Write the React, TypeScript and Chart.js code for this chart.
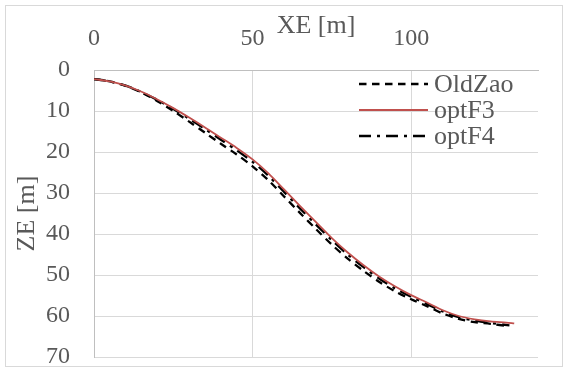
import React, { useEffect, useRef } from "react";
import { Chart, registerables } from "chart.js";

Chart.register(...registerables);

const FONT = '"Liberation Serif", "Times New Roman", serif';
const TEXT = "#595959";

const xOldZao = [0, 5, 10, 15, 20, 25, 30, 35, 40, 45, 50, 55, 60, 65, 70, 75, 80, 85, 90, 95, 100, 105, 110, 115, 120, 125, 130.8];
const zOldZao = [2.2, 2.8, 3.9, 5.5, 7.6, 10.0, 12.6, 15.3, 18.0, 20.6, 23.5, 26.9, 30.9, 34.9, 38.8, 42.6, 46.0, 49.0, 51.7, 54.0, 55.9, 57.6, 59.4, 60.7, 61.5, 61.9, 62.5];

const xOptF3 = [0, 5, 10, 15, 20, 25, 30, 35, 40, 45, 50, 55, 60, 65, 70, 75, 80, 85, 90, 95, 100, 105, 110, 115, 120, 125, 130, 132.5];
const zOptF3 = [2.2, 2.8, 3.8, 5.3, 7.2, 9.3, 11.6, 14.0, 16.5, 19.0, 21.8, 25.2, 29.2, 33.2, 37.1, 41.0, 44.5, 47.6, 50.4, 52.8, 54.9, 56.7, 58.6, 60.0, 60.8, 61.3, 61.6, 61.8];

const xOptF4 = [0, 5, 10, 15, 20, 25, 30, 35, 40, 45, 50, 55, 60, 65, 70, 75, 80, 85, 90, 95, 100, 105, 110, 115, 120, 125, 131];
const zOptF4 = [2.2, 2.8, 3.8, 5.4, 7.3, 9.5, 11.9, 14.4, 17.0, 19.6, 22.4, 25.8, 29.8, 33.8, 37.7, 41.5, 45.0, 48.1, 50.9, 53.3, 55.3, 57.1, 58.9, 60.3, 61.1, 61.7, 62.3];

const seriesNames = ["OldZao", "optF3", "optF4"];

const xTitle = "XE [m]";
const yTitle = "ZE [m]";

const pts = (xs: number[], zs: number[]) => xs.map((x, i) => ({ x, y: zs[i] }));

const legendPlugin = {
  id: "insideLegend",
  afterDraw(chart: any) {
    const ctx = chart.ctx;
    const ds = chart.data.datasets;
    ctx.save();
    ds.forEach((d: any, k: number) => {
      const y = 84 + k * 26;
      ctx.beginPath();
      ctx.setLineDash(d.borderDash || []);
      ctx.lineWidth = d.borderWidth;
      ctx.strokeStyle = d.borderColor;
      ctx.moveTo(359, y);
      ctx.lineTo(428, y);
      ctx.stroke();
      ctx.setLineDash([]);
      ctx.fillStyle = TEXT;
      ctx.font = `26px ${FONT}`;
      ctx.textBaseline = "middle";
      ctx.textAlign = "left";
      ctx.fillText(d.label, 434, y + 1);
    });
    ctx.restore();
  },
};

const framePlugin = {
  id: "frame",
  beforeDraw(chart: any) {
    const ctx = chart.ctx;
    ctx.save();
    ctx.fillStyle = "#ffffff";
    ctx.fillRect(0, 0, chart.width, chart.height);
    ctx.strokeStyle = "#d9d9d9";
    ctx.lineWidth = 1;
    ctx.strokeRect(5.5, 5.5, chart.width - 11, chart.height - 11);
    ctx.restore();
  },
};

export default function App() {
  const ref = useRef<HTMLCanvasElement | null>(null);
  useEffect(() => {
    document.body.style.margin = "0";
    const chart = new Chart(ref.current as HTMLCanvasElement, {
      type: "scatter",
      data: {
        datasets: [
          {
            label: seriesNames[0],
            data: pts(xOldZao, zOldZao),
            showLine: true,
            borderColor: "#000000",
            borderWidth: 2.3,
            borderDash: [7.5, 5.5],
            pointRadius: 0,
            tension: 0.3,
            order: 2,
          },
          {
            label: seriesNames[1],
            data: pts(xOptF3, zOptF3),
            showLine: true,
            borderColor: "#c0504d",
            borderWidth: 1.8,
            pointRadius: 0,
            tension: 0.3,
            order: 0,
          },
          {
            label: seriesNames[2],
            data: pts(xOptF4, zOptF4),
            showLine: true,
            borderColor: "#000000",
            borderWidth: 2.3,
            borderDash: [12, 6, 3, 6],
            pointRadius: 0,
            tension: 0.3,
            order: 1,
          },
        ],
      },
      options: {
        animation: false,
        responsive: false,
        maintainAspectRatio: false,
        layout: { padding: { left: 0, right: 30, top: 0, bottom: 15 } },
        plugins: { legend: { display: false }, tooltip: { enabled: false } },
        scales: {
          x: {
            type: "linear",
            position: "top",
            min: 0,
            max: 140,
            ticks: {
              stepSize: 50,
              includeBounds: false,
              color: TEXT,
              font: { family: FONT, size: 24 },
              padding: 17,
            },
            grid: { color: "#d9d9d9", lineWidth: 1, drawTicks: false },
            border: { display: true, color: "#bfbfbf", width: 1 },
            title: {
              display: true,
              text: xTitle,
              color: TEXT,
              font: { family: FONT, size: 26 },
              padding: { top: 11, bottom: 0 },
            },
            afterFit: (s: any) => {
              s.height = 70;
              s.paddingLeft = 0;
              s.paddingRight = 0;
            },
          },
          y: {
            type: "linear",
            reverse: true,
            min: 0,
            max: 70,
            ticks: {
              stepSize: 10,
              color: TEXT,
              font: { family: FONT, size: 24 },
              padding: 24,
            },
            grid: { color: "#d9d9d9", lineWidth: 1, drawTicks: false },
            border: { display: true, color: "#bfbfbf", width: 1 },
            title: {
              display: true,
              text: yTitle,
              color: TEXT,
              font: { family: FONT, size: 26 },
              padding: { top: 12, bottom: 0 },
            },
            afterFit: (s: any) => {
              s.width = 94;
              s.paddingTop = 0;
              s.paddingBottom = 0;
            },
          },
        },
      },
      plugins: [framePlugin, legendPlugin],
    });
    return () => chart.destroy();
  }, []);
  return (
    <div style={{ width: 568, height: 372 }}>
      <canvas ref={ref} width={568} height={372} style={{ display: "block" }} />
    </div>
  );
}
